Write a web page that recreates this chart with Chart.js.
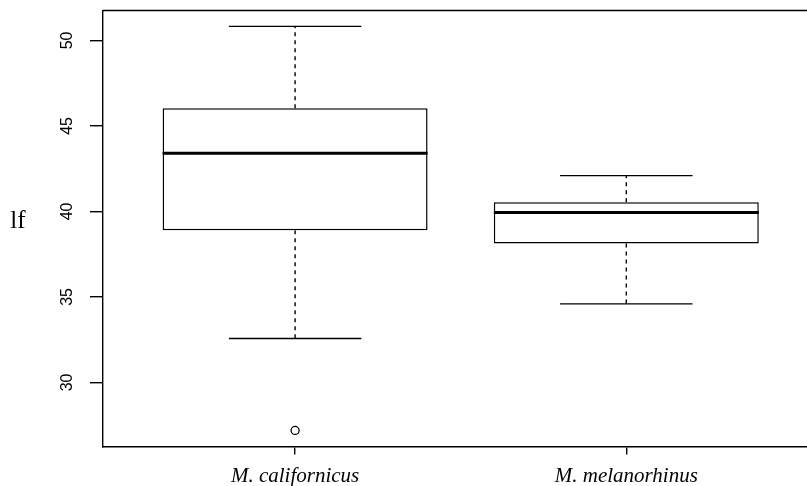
<!DOCTYPE html>
<html>
<head>
<meta charset="utf-8">
<script src="https://cdn.jsdelivr.net/npm/chart.js@4"></script>
<style>
  html, body { margin: 0; padding: 0; background: #ffffff; }
  canvas { display: block; }
</style>
</head>
<body>
<canvas id="c" width="807" height="486"></canvas>
<script>
// ---- data ----
const categories   = ['M. californicus', 'M. melanorhinus'];
const whiskerLow   = [32.57, 34.59];
const q1           = [38.90, 38.13];
const median       = [43.40, 39.93];
const q3           = [46.04, 40.53];
const whiskerHigh  = [50.82, 42.09];
const outliers     = [[27.19], []];
const yTicks       = [30, 35, 40, 45, 50];
const yLabel       = 'lf';

const boxData = categories.map((c, i) => ({ x: i + 1, y: [q1[i], q3[i]] }));
const outlierData = [];
outliers.forEach((arr, i) => arr.forEach(v => outlierData.push({ x: i + 1, y: v })));

const CAP_HALF = 0.2;   // half width of whisker caps, in x-scale units

const boxPlugin = {
  id: 'boxExtras',
  beforeDatasetsDraw(chart) {
    const { ctx, scales: { x, y }, chartArea } = chart;
    ctx.save();
    ctx.strokeStyle = '#000';
    // top frame line
    ctx.lineWidth = 1.4;
    ctx.beginPath();
    ctx.moveTo(chartArea.left, chartArea.top);
    ctx.lineTo(chartArea.right, chartArea.top);
    ctx.stroke();
    categories.forEach((c, i) => {
      const cx = x.getPixelForValue(i + 1);
      const xl = x.getPixelForValue(i + 1 - CAP_HALF);
      const xr = x.getPixelForValue(i + 1 + CAP_HALF);
      // dashed whisker stems
      ctx.lineWidth = 1.4;
      ctx.setLineDash([4, 4]);
      ctx.beginPath();
      ctx.moveTo(cx, y.getPixelForValue(q3[i]));
      ctx.lineTo(cx, y.getPixelForValue(whiskerHigh[i]));
      ctx.moveTo(cx, y.getPixelForValue(q1[i]));
      ctx.lineTo(cx, y.getPixelForValue(whiskerLow[i]));
      ctx.stroke();
      // caps
      ctx.setLineDash([]);
      ctx.beginPath();
      ctx.moveTo(xl, y.getPixelForValue(whiskerHigh[i]));
      ctx.lineTo(xr, y.getPixelForValue(whiskerHigh[i]));
      ctx.moveTo(xl, y.getPixelForValue(whiskerLow[i]));
      ctx.lineTo(xr, y.getPixelForValue(whiskerLow[i]));
      ctx.stroke();
    });
    ctx.restore();
  },
  afterDatasetsDraw(chart) {
    const { ctx, scales: { x, y } } = chart;
    ctx.save();
    ctx.strokeStyle = '#000';
    ctx.lineWidth = 3;
    categories.forEach((c, i) => {
      const meta = chart.getDatasetMeta(0).data[i];
      const half = meta.width / 2;
      const cx = x.getPixelForValue(i + 1);
      const my = y.getPixelForValue(median[i]);
      ctx.beginPath();
      ctx.moveTo(cx - half, my);
      ctx.lineTo(cx + half, my);
      ctx.stroke();
    });
    // y axis label (horizontal, serif)
    ctx.fillStyle = '#000';
    ctx.font = '25px "Liberation Serif", "Times New Roman", serif';
    ctx.textAlign = 'center';
    ctx.textBaseline = 'middle';
    ctx.fillText(yLabel, 18, y.getPixelForValue((y.min + y.max) / 2) - 7);
    ctx.restore();
  }
};

new Chart(document.getElementById('c'), {
  type: 'bar',
  data: {
    datasets: [
      {
        type: 'bar',
        data: boxData,
        backgroundColor: '#ffffff',
        borderColor: '#000000',
        borderWidth: 1.5,
        borderSkipped: false,
        categoryPercentage: 1.0,
        barPercentage: 0.8,
        order: 2
      },
      {
        type: 'scatter',
        data: outlierData,
        pointStyle: 'circle',
        pointRadius: 4,
        pointBackgroundColor: '#ffffff',
        pointBorderColor: '#000000',
        pointBorderWidth: 1.3,
        showLine: false,
        order: 1
      }
    ]
  },
  options: {
    responsive: false,
    devicePixelRatio: 1,
    animation: false,
    layout: { autoPadding: false, padding: { left: 0, right: 0, top: 10.5, bottom: 0 } },
    plugins: { legend: { display: false }, tooltip: { enabled: false } },
    scales: {
      x: {
        type: 'linear',
        position: 'bottom',
        offset: false,
        min: 0.42,
        max: 2.5456,
        afterBuildTicks: (axis) => { axis.ticks = categories.map((c, i) => ({ value: i + 1 })); },
        afterFit: (scale) => { scale.height = 39.5; scale.paddingLeft = 0; scale.paddingRight = 0; },
        ticks: {
          autoSkip: false,
          maxRotation: 0,
          minRotation: 0,
          padding: 9,
          color: '#000',
          font: { family: '"Liberation Serif", "Times New Roman", serif', size: 21, style: 'italic' },
          callback: (v) => categories[v - 1] ?? ''
        },
        grid: { offset: false, drawOnChartArea: false, drawTicks: true, tickLength: 8, color: '#000', lineWidth: 1.4 },
        border: { display: true, color: '#000', width: 1.4 }
      },
      y: {
        type: 'linear',
        position: 'left',
        min: 26.25,
        max: 51.75,
        afterBuildTicks: (axis) => { axis.ticks = yTicks.map(v => ({ value: v })); },
        afterFit: (scale) => { scale.width = 103; scale.paddingTop = 0; scale.paddingBottom = 0; },
        ticks: {
          minRotation: 90,
          maxRotation: 90,
          crossAlign: 'center',
          padding: 14,
          color: '#000',
          font: { family: '"Liberation Sans", Arial, sans-serif', size: 16 }
        },
        grid: { drawOnChartArea: false, drawTicks: true, tickLength: 13, color: '#000', lineWidth: 1.4 },
        border: { display: true, color: '#000', width: 1.4 }
      }
    }
  },
  plugins: [boxPlugin]
});
</script>
</body>
</html>
